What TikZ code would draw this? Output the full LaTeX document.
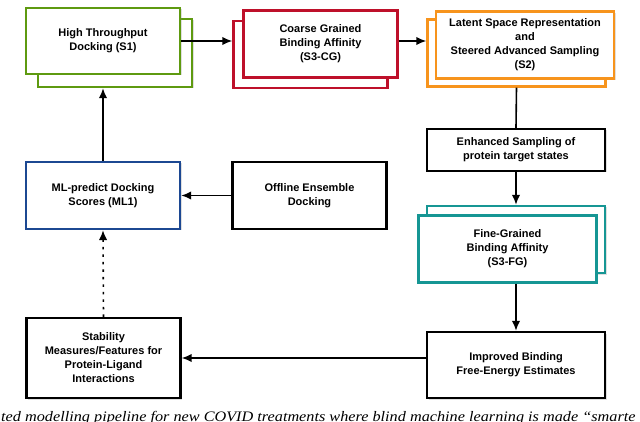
\documentclass[tikz,border=0pt]{standalone}
\usepackage{fontspec}
\setsansfont{Liberation Sans}
\newfontfamily\capfont{Liberation Serif}
\usepackage{xcolor}
\usetikzlibrary{arrows.meta}
\usetikzlibrary{shadows}

\definecolor{dockgreen}{RGB}{94,154,16}
\definecolor{cgred}{RGB}{190,16,42}
\definecolor{lsorange}{RGB}{247,148,29}
\definecolor{mlblue}{RGB}{28,72,146}
\definecolor{fgteal}{RGB}{22,150,148}

\begin{document}
\begin{tikzpicture}[x=1pt, y=-1pt,
  box/.style = {draw, line width=2.4pt, fill=white, align=center,
    font=\sffamily\bfseries\fontsize{11}{14}\selectfont,
    minimum width=154pt, minimum height=67pt, inner sep=2pt,
    drop shadow={shadow xshift=1.5pt, shadow yshift=-1.5pt, opacity=0.25}},
  wide/.style = {minimum width=178pt},
  arrow/.style = {-{Latex[length=10pt, width=8.5pt]}, line width=1.6pt}]

% Fix the page size
\useasboundingbox (0,0) rectangle (640,422);

% Top row: stacked boxes (back copy first)
\node[box, draw=dockgreen, minimum height=68pt] (s1back) at (115,53) {};
\node[box, draw=dockgreen, minimum height=66pt] (s1) at (103,41) {High Throughput\\Docking (S1)};

\node[box, draw=cgred] (cgback) at (310.5,54.5) {};
\node[box, draw=cgred] (cg) at (320.5,44) {Coarse Grained\\Binding Affinity\\(S3-CG)};

\node[box, wide, draw=lsorange] (s2back) at (516.5,53) {};
\node[box, wide, draw=lsorange] (s2) at (525,45) {Latent Space Representation\\and\\Steered Advanced Sampling\\(S2)};

% Middle row
\node[box, wide, minimum height=42pt] (enh) at (516,150) {Enhanced Sampling of\\protein target states};
\node[box] (offline) at (309.5,195.5) {Offline Ensemble\\Docking};
\node[box, draw=mlblue] (ml1) at (103,195.5) {ML-predict Docking\\Scores (ML1)};

\node[box, wide, draw=fgteal] (fgback) at (516,239.5) {};
\node[box, wide, draw=fgteal] (fg) at (507.5,249) {Fine-Grained\\Binding Affinity\\(S3-FG)};

% Bottom row
\node[box, minimum height=80pt] (stab) at (103.5,358) {Stability\\Measures/Features for\\Protein-Ligand\\Interactions};
\node[box, wide, minimum height=66pt] (imp) at (516,365) {Improved Binding\\Free-Energy Estimates};

% Connectors
\draw[arrow] (s1.east) -- (s1.east -| cgback.west);
\draw[arrow] (cg.east |- s1.east) -- (s1.east -| s2back.west);
\draw[line width=1.6pt] (s2back.south) -- (enh.north);
\draw[arrow] (enh.south) -- (fgback.north);
\draw[arrow] (imp.north |- fg.south) -- (imp.north);
\draw[arrow] (stab.east -| imp.west) -- (stab.east);
\draw[arrow, dash pattern=on 2.5pt off 5pt] (stab.north) -- (ml1.south);
\draw[arrow] (offline.west) -- (ml1.east);
\draw[arrow] (ml1.north) -- (ml1.north |- s1back.south);

% Cut-off caption
\begin{scope}
\clip (0,0) rectangle (640,422);
\node[anchor=base west, inner sep=0pt, xscale=1.12, transform shape, font=\capfont\itshape\fontsize{14.5}{16}\selectfont] (caption) at (1,421) {ted modelling pipeline for new COVID treatments where blind machine learning is made “smarte};
\end{scope}

\end{tikzpicture}
\end{document}
